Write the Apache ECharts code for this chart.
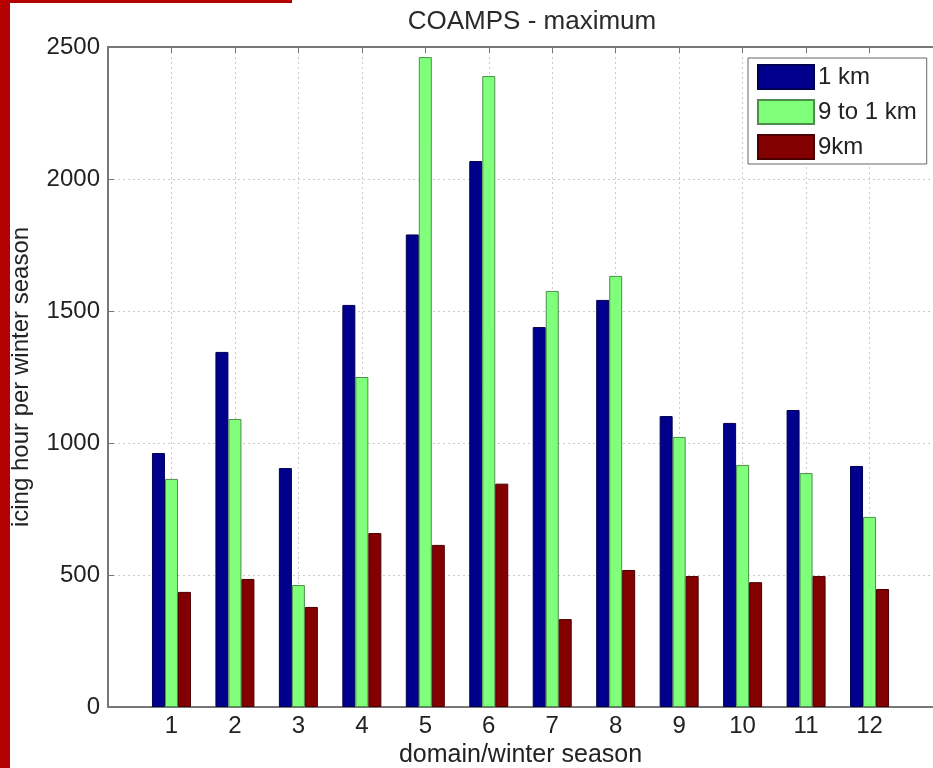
<!DOCTYPE html>
<html>
<head>
<meta charset="utf-8">
<script src="https://cdn.jsdelivr.net/npm/echarts@6/dist/echarts.min.js"></script>
<style>
  html, body {margin: 0; padding: 0; background: #fff;}
  #main {width: 933px; height: 768px;}
</style>
</head>
<body>
<div id="main"></div>
<script>
  const domains = [1, 2, 3, 4, 5, 6, 7, 8, 9, 10, 11, 12];
  const oneKm = [962, 1345, 905, 1523, 1790, 2068, 1439, 1542, 1102, 1076, 1125, 913];
  const nineToOneKm = [864, 1091, 462, 1250, 2462, 2390, 1576, 1633, 1023, 917, 886, 720];
  const nineKm = [436, 485, 379, 659, 614, 846, 333, 519, 496, 473, 496, 447];
  const yTicks = [0, 500, 1000, 1500, 2000, 2500];

  const font = "'Liberation Sans', Arial, sans-serif";
  const pairs = vals => domains.map((d, i) => [d, vals[i]]);

  const chart = echarts.init(document.getElementById('main'));

  const barStyle = (color, border) => ({
    type: 'bar',
    barWidth: 13,
    barGap: '0%',
    itemStyle: {color: color, borderColor: border, borderWidth: 1},
    emphasis: {disabled: true}
  });

  chart.setOption({
    animation: false,
    textStyle: {fontFamily: font},
    title: {
      text: 'COAMPS - maximum',
      left: 527,
      textAlign: 'center',
      top: 4,
      textStyle: {fontSize: 26, fontWeight: 'normal', color: '#2a2a2a', fontFamily: font}
    },
    grid: {left: 108, right: 0, top: 47, bottom: 61, outerBoundsMode: 'none', containLabel: false},
    legend: {
      left: 748,
      top: 58,
      orient: 'vertical',
      itemWidth: 56,
      itemHeight: 24,
      itemGap: 9,
      padding: [6, 10, 4, 9],
      backgroundColor: '#fff',
      borderColor: '#666',
      borderWidth: 1,
      borderRadius: 0,
      icon: 'rect',
      textStyle: {fontSize: 24, lineHeight: 24, color: '#222', padding: [0, 0, 0, -1]},
      data: ['1 km', '9 to 1 km', '9km']
    },
    xAxis: [{
      type: 'value',
      min: 0,
      max: 13,
      interval: 1,
      name: 'domain/winter season',
      nameLocation: 'middle',
      nameGap: 33,
      nameTextStyle: {fontSize: 25, color: '#222'},
      axisLine: {lineStyle: {color: '#777', width: 2}},
      axisTick: {inside: true, length: 6, lineStyle: {color: '#777'}},
      axisLabel: {
        fontSize: 24, color: '#222', margin: 7,
        formatter: v => (domains.indexOf(v) >= 0 ? String(v) : '')
      },
      splitLine: {show: true, lineStyle: {color: '#ccc', type: [2, 3]}}
    }, {
      type: 'value',
      position: 'top',
      min: 0,
      max: 13,
      interval: 1,
      axisLine: {show: true, lineStyle: {color: '#777', width: 2}},
      axisTick: {inside: true, length: 6, lineStyle: {color: '#777'}},
      axisLabel: {show: false},
      splitLine: {show: false}
    }],
    yAxis: {
      type: 'value',
      min: yTicks[0],
      max: yTicks[yTicks.length - 1],
      interval: 500,
      name: 'icing hour per winter season',
      nameLocation: 'middle',
      nameRotate: 90,
      nameGap: 75,
      nameTextStyle: {fontSize: 24, color: '#222'},
      axisLine: {show: true, lineStyle: {color: '#777', width: 2}},
      axisTick: {show: true, inside: true, length: 6, lineStyle: {color: '#777'}},
      axisLabel: {fontSize: 24, color: '#222', margin: 8, formatter: v => String(v)},
      splitLine: {show: true, lineStyle: {color: '#ccc', type: [2, 3]}}
    },
    series: [
      Object.assign(barStyle('#00008c', '#000050'), {name: '1 km', data: pairs(oneKm)}),
      Object.assign(barStyle('#80ff7a', '#4c8f4c'), {name: '9 to 1 km', data: pairs(nineToOneKm)}),
      Object.assign(barStyle('#820000', '#4a0000'), {name: '9km', data: pairs(nineKm)})
    ],
    graphic: [
      {type: 'rect', left: 0, top: 0, shape: {width: 10, height: 768}, style: {fill: '#b40000'}, z: 100},
      {type: 'rect', left: 0, top: 0, shape: {width: 292, height: 3}, style: {fill: '#b40000'}, z: 100}
    ]
  });
</script>
</body>
</html>
